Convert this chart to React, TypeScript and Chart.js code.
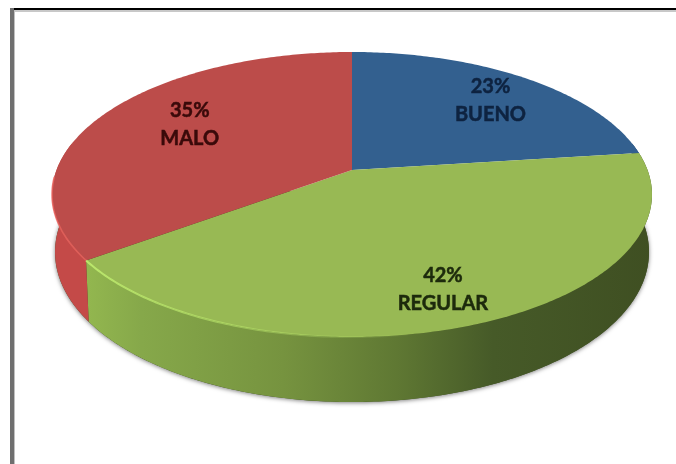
import React, { useEffect, useRef } from "react";
import { Chart, registerables } from "chart.js";

Chart.register(...registerables);

const categories = ["BUENO", "REGULAR", "MALO"];
const values = [23, 42, 35];
const topColors = ["#33608f", "#98b954", "#bc4c4a"];

const W = 676;
const H = 464;
const CX = 352;
const CY = 170;
const BX = 295.5;
const BY = 138.3;
const K = -0.172;
const LABEL_RADIUS = [0.78, 0.78, 0.66];
const LABEL_NUDGE_X = [0, -6, 3];
const LABEL_NUDGE_Y = [4, 4.5, -6.5];

function project(r: number, angle: number): [number, number] {
  const u = r * Math.cos(angle);
  const v = r * Math.sin(angle);
  const w = 1 + K * v;
  return [CX + (BX * u) / w, CY + (BY * v) / w];
}

function lower(angle: number): [number, number] {
  const [x, y] = project(1, angle);
  const v = Math.sin(angle);
  return [CX + (x - CX) * 0.99, y + 56 + 9 * v];
}

function angles(start: number, end: number): number[] {
  const n = Math.max(2, Math.ceil((end - start) * 80));
  const out: number[] = [];
  for (let i = 0; i <= n; i++) out.push(start + ((end - start) * i) / n);
  return out;
}

const sideStops: Record<number, [number, string][]> = {
  1: [
    [0, "#93b74f"],
    [0.1, "#86a84a"],
    [0.35, "#76933f"],
    [0.55, "#5f7833"],
    [0.72, "#465a28"],
    [1, "#3f4f22"],
  ],
  2: [
    [0, "#c44a48"],
    [1, "#c04644"],
  ],
  0: [
    [0, "#2a4a70"],
    [1, "#2a4a70"],
  ],
};

const pie3d = {
  id: "pie3d",
  beforeDraw(chart: any) {
    const ctx = chart.ctx;
    ctx.save();
    ctx.fillStyle = "#ffffff";
    ctx.fillRect(0, 0, W, H);
    ctx.fillStyle = "#c8c8c8";
    ctx.fillRect(10, 10, W - 10, 2);
    ctx.fillStyle = "#000000";
    ctx.fillRect(10, 8, W - 10, 2);
    ctx.fillStyle = "#c0c0c0";
    ctx.fillRect(14, 10, 1, H - 10);
    ctx.fillStyle = "#6f6f6f";
    ctx.fillRect(10, 8, 4, H - 8);
    ctx.restore();
  },
  beforeDatasetDraw(chart: any, args: any) {
    const ctx = chart.ctx;
    const arcs = args.meta.data;

    ctx.save();
    ctx.shadowColor = "rgba(0,0,0,0.5)";
    ctx.shadowBlur = 4;
    ctx.shadowOffsetY = 1;
    ctx.fillStyle = "#3f4f22";
    ctx.beginPath();
    angles(-0.25, Math.PI + 0.25).forEach((t, i) => {
      const [x, y] = lower(t);
      i ? ctx.lineTo(x, y) : ctx.moveTo(x, y);
    });
    ctx.closePath();
    ctx.fill();
    ctx.restore();

    arcs.forEach((arc: any, i: number) => {
      const a = Math.max(arc.startAngle, -0.2);
      const b = Math.min(arc.endAngle, Math.PI + 0.2);
      if (b <= a) return;
      const ts = angles(a, b);
      const grad = ctx.createLinearGradient(85, 0, 652, 0);
      sideStops[i].forEach(([o, c]) => grad.addColorStop(o, c));
      ctx.fillStyle = grad;
      ctx.beginPath();
      ts.forEach((t, j) => {
        const [x, y] = project(1, t);
        j ? ctx.lineTo(x, y) : ctx.moveTo(x, y);
      });
      for (let j = ts.length - 1; j >= 0; j--) {
        const [x, y] = lower(ts[j]);
        ctx.lineTo(x, y);
      }
      ctx.closePath();
      ctx.fill();
    });

    arcs.forEach((arc: any) => {
      ctx.fillStyle = arc.options.backgroundColor;
      ctx.beginPath();
      ctx.moveTo(CX, CY);
      angles(arc.startAngle, arc.endAngle).forEach((t) => {
        const [x, y] = project(1, t);
        ctx.lineTo(x, y);
      });
      ctx.closePath();
      ctx.fill();
    });

    const lit = ctx.createLinearGradient(85, 0, 420, 0);
    lit.addColorStop(0, "rgba(190,235,110,0.95)");
    lit.addColorStop(1, "rgba(190,235,110,0)");
    const g = arcs[1];
    ctx.strokeStyle = lit;
    ctx.lineWidth = 2;
    ctx.beginPath();
    angles(Math.max(g.startAngle, Math.PI * 0.45), g.endAngle).forEach((t, j) => {
      const [x, y] = project(1, t);
      j ? ctx.lineTo(x, y) : ctx.moveTo(x, y);
    });
    ctx.stroke();

    const r = arcs[2];
    ctx.strokeStyle = "rgba(235,100,95,0.8)";
    ctx.lineWidth = 1.6;
    ctx.beginPath();
    angles(r.startAngle, Math.PI - 0.05).forEach((t, j) => {
      const [x, y] = project(1, t);
      j ? ctx.lineTo(x, y) : ctx.moveTo(x, y);
    });
    ctx.stroke();

    return false;
  },
  afterDatasetsDraw(chart: any) {
    const ctx = chart.ctx;
    ctx.save();
    ctx.textAlign = "center";
    ctx.textBaseline = "middle";
    ctx.font = "bold 20px Lato, 'Open Sans', sans-serif";
    ctx.lineWidth = 0.5;
    chart.getDatasetMeta(0).data.forEach((arc: any, i: number) => {
      const mid = (arc.startAngle + arc.endAngle) / 2;
      const [x, y] = project(LABEL_RADIUS[i], mid);
      const lx = x + LABEL_NUDGE_X[i];
      const ly = y + LABEL_NUDGE_Y[i];
      const ink = i === 1 ? "#1d2a0c" : i === 0 ? "#0e2340" : "#3a0a0a";
      ctx.fillStyle = ink;
      ctx.strokeStyle = ink;
      [`${values[i]}%`, categories[i]].forEach((text, k) => {
        const ty = ly + (k === 0 ? -14 : 14);
        ctx.fillText(text, lx, ty);
        ctx.strokeText(text, lx, ty);
      });
    });
    ctx.restore();
  },
};

export default function App() {
  const ref = useRef<HTMLCanvasElement>(null);
  useEffect(() => {
    document.body.style.margin = "0";
    const chart = new Chart(ref.current!, {
      type: "pie",
      data: {
        labels: categories,
        datasets: [{ data: values, backgroundColor: topColors, borderWidth: 0 }],
      },
      options: {
        responsive: false,
        animation: false,
        plugins: { legend: { display: false }, tooltip: { enabled: false } },
      },
      plugins: [pie3d],
    });
    return () => chart.destroy();
  }, []);
  return <canvas ref={ref} width={W} height={H} style={{ display: "block" }} />;
}
